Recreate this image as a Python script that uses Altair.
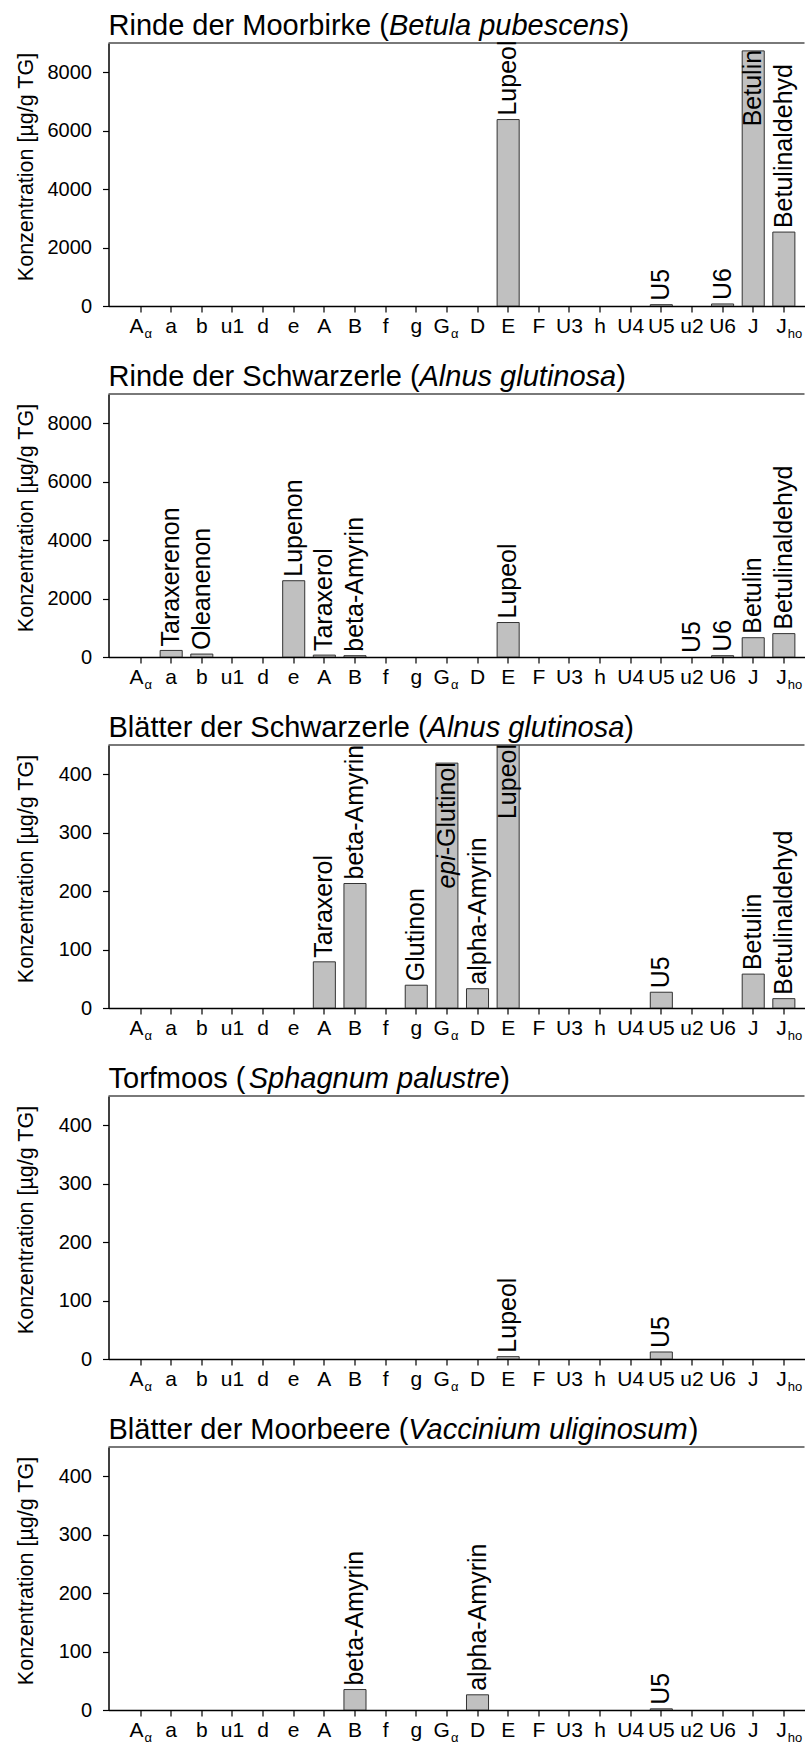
import altair as alt
import pandas as pd

FONT = "Liberation Sans"
W, H = 696, 263          # plot area of each panel
BAR_FILL = "#c0c0c0"
BAR_STROKE = "#333333"

# compound codes along the x axis (same order in every panel)
categories = ["Aα", "a", "b", "u1", "d", "e", "A", "B", "f", "g", "Gα",
              "D", "E", "F", "U3", "h", "U4", "U5", "u2", "U6", "J", "Jho"]
sub_main = {"Aα": "A", "Gα": "G", "Jho": "J"}
sub_low = {"Aα": "α", "Gα": "α", "Jho": "ho"}

# --- Rinde der Moorbirke -------------------------------------------------
p1_title = ["Rinde der Moorbirke (", "Betula pubescens", ")"]
p1_ymax, p1_ticks = 9000, [0, 2000, 4000, 6000, 8000]
p1_bar_cats = ["E", "U5", "U6", "J", "Jho"]
p1_bar_vals = [6380, 45, 70, 8730, 2530]
p1_lab_cats = ["E", "U5", "U6", "J", "Jho"]
p1_lab_names = ["Lupeol", "U5", "U6", "Betulin", "Betulinaldehyd"]

# --- Rinde der Schwarzerle -----------------------------------------------
p2_title = ["Rinde der Schwarzerle (", "Alnus glutinosa", ")"]
p2_ymax, p2_ticks = 9000, [0, 2000, 4000, 6000, 8000]
p2_bar_cats = ["a", "b", "e", "A", "B", "E", "U6", "J", "Jho"]
p2_bar_vals = [225, 100, 2610, 65, 45, 1180, 45, 660, 800]
p2_lab_cats = ["a", "b", "e", "A", "B", "E", "u2", "U6", "J", "Jho"]
p2_lab_names = ["Taraxerenon", "Oleanenon", "Lupenon", "Taraxerol", "beta-Amyrin",
                "Lupeol", "U5", "U6", "Betulin", "Betulinaldehyd"]

# --- Blätter der Schwarzerle ---------------------------------------------
p3_title = ["Blätter der Schwarzerle (", "Alnus glutinosa", ")"]
p3_ymax, p3_ticks = 450, [0, 100, 200, 300, 400]
p3_bar_cats = ["A", "B", "g", "Gα", "D", "E", "U5", "J", "Jho"]
p3_bar_vals = [79, 213, 39, 419, 33, 480, 27, 58, 16]
p3_lab_cats = ["A", "B", "g", "Gα", "D", "E", "U5", "J", "Jho"]
p3_lab_names = ["Taraxerol", "beta-Amyrin", "Glutinon", "epi-Glutinol", "alpha-Amyrin",
                "Lupeol", "U5", "Betulin", "Betulinaldehyd"]

# --- Torfmoos ------------------------------------------------------------
p4_title = ["Torfmoos (", "Sphagnum palustre", ")"]
p4_ymax, p4_ticks = 450, [0, 100, 200, 300, 400]
p4_bar_cats = ["E", "U5"]
p4_bar_vals = [4, 12]
p4_lab_cats = ["E", "U5"]
p4_lab_names = ["Lupeol", "U5"]

# --- Blätter der Moorbeere -----------------------------------------------
p5_title = ["Blätter der Moorbeere (", "Vaccinium uliginosum", ")"]
p5_ymax, p5_ticks = 450, [0, 100, 200, 300, 400]
p5_bar_cats = ["B", "D", "U5"]
p5_bar_vals = [35, 26, 2]
p5_lab_cats = ["B", "D", "U5"]
p5_lab_names = ["beta-Amyrin", "alpha-Amyrin", "U5"]

ITALIC_PREFIXES = ["epi"]

# Helvetica/Arial advance widths (1/1000 em) used to line up mixed-style text
_W = dict(zip("ABCDEFGHIJKLMNOPQRSTUVWXYZ",
              [667, 667, 722, 722, 667, 611, 778, 722, 278, 500, 667, 556, 833,
               722, 778, 667, 778, 722, 667, 611, 722, 667, 944, 667, 667, 611]))
_W.update(zip("abcdefghijklmnopqrstuvwxyz",
              [556, 556, 500, 556, 556, 278, 556, 556, 222, 222, 500, 222, 833,
               556, 556, 556, 556, 333, 500, 278, 556, 500, 722, 500, 500, 500]))
_W.update({" ": 278, "(": 333, ")": 333, "-": 333, "ä": 556})


def text_width(s, size):
    return sum(_W.get(c, 556) for c in s) * size / 1000.0


x_scale = alt.Scale(domain=categories, paddingInner=0.28, paddingOuter=0.5, align=0.686)

LABEL_SIZE = 25
TITLE_SIZE = 29
TICKLABEL_SIZE = 21


def panel(title, ymax, yticks, bar_cats, bar_vals, lab_cats, lab_names):
    y_scale = alt.Scale(domain=[0, ymax], nice=False, zero=True)

    bars_df = pd.DataFrame({"cat": bar_cats, "value": bar_vals})
    lookup = dict(zip(bar_cats, bar_vals))
    labs = pd.DataFrame({"cat": lab_cats, "name": lab_names})
    labs["value"] = [lookup.get(c, 0) for c in lab_cats]
    labs["top"] = labs["value"].clip(upper=ymax)
    labs["inside"] = labs["value"] > 0.9 * ymax

    bars = alt.Chart(bars_df).mark_bar(
        fill=BAR_FILL, stroke=BAR_STROKE, strokeWidth=1, clip=True
    ).encode(
        x=alt.X("cat:N", scale=x_scale, sort=categories,
                axis=alt.Axis(labels=False, ticks=True, tickSize=6, title=None,
                              grid=False, domainWidth=1.5, tickWidth=1.2,
                              domainColor="black", tickColor="black")),
        y=alt.Y("value:Q", scale=y_scale,
                axis=alt.Axis(values=yticks, format="d", tickSize=6, labelPadding=11,
                              labelFontSize=20, labelColor="black",
                              title="Konzentration [µg/g TG]", titleFontSize=21.5,
                              titleFontWeight="normal", titleColor="black",
                              titleX=-76, titleY=H / 2 - 8, titleAngle=270,
                              titleAlign="center", titleBaseline="alphabetic",
                              grid=False, domainWidth=1.5, tickWidth=1.2,
                              domainColor="black", tickColor="black")),
    )

    top_line = alt.Chart(pd.DataFrame({"k": [0]})).mark_rule(
        color="#4d4d4d", strokeWidth=1.5
    ).encode(x=alt.value(0), x2=alt.value(W), y=alt.value(0))

    layers = [bars, top_line]

    # labels standing on top of their bars
    out_df = labs[~labs["inside"]]
    if len(out_df):
        layers.append(alt.Chart(out_df).mark_text(
            angle=270, align="left", baseline="middle", dx=4,
            fontSize=LABEL_SIZE, font=FONT, color="black"
        ).encode(x=alt.X("cat:N", scale=x_scale, sort=categories),
                 y=alt.Y("value:Q", scale=y_scale), text="name:N"))

    # labels that would not fit above: drawn inside the bar, ending at its top
    in_df = labs[labs["inside"]].copy()
    plain_rows, italic_rows = [], []
    for _, r in in_df.iterrows():
        pref = next((p for p in ITALIC_PREFIXES if r["name"].startswith(p + "-")), None)
        if pref:
            rest = r["name"][len(pref):]
            plain_rows.append({"cat": r["cat"], "top": r["top"], "name": rest})
            italic_rows.append({"cat": r["cat"], "top": r["top"], "name": pref,
                                "shift": text_width(rest, LABEL_SIZE)})
        else:
            plain_rows.append({"cat": r["cat"], "top": r["top"], "name": r["name"]})
    if plain_rows:
        layers.append(alt.Chart(pd.DataFrame(plain_rows)).mark_text(
            angle=270, align="right", baseline="middle", dx=1,
            fontSize=LABEL_SIZE, font=FONT, color="black"
        ).encode(x=alt.X("cat:N", scale=x_scale, sort=categories),
                 y=alt.Y("top:Q", scale=y_scale), text="name:N"))
    for row in italic_rows:
        layers.append(alt.Chart(pd.DataFrame([row])).mark_text(
            angle=270, align="right", baseline="middle", dx=1 - row["shift"],
            fontSize=LABEL_SIZE, font=FONT, fontStyle="italic", color="black"
        ).encode(x=alt.X("cat:N", scale=x_scale, sort=categories),
                 y=alt.Y("top:Q", scale=y_scale), text="name:N"))

    # x tick labels (with subscripts where needed)
    plain_ticks = pd.DataFrame({"cat": [c for c in categories if c not in sub_main]})
    plain_ticks["txt"] = plain_ticks["cat"]
    sub_ticks = pd.DataFrame({"cat": list(sub_main)})
    sub_ticks["main"] = [sub_main[c] for c in sub_ticks["cat"]]
    sub_ticks["low"] = [sub_low[c] for c in sub_ticks["cat"]]
    layers.append(alt.Chart(plain_ticks).mark_text(
        align="center", baseline="alphabetic", fontSize=TICKLABEL_SIZE, font=FONT, color="black"
    ).encode(x=alt.X("cat:N", scale=x_scale, sort=categories),
             y=alt.value(H + 27), text="txt:N"))
    layers.append(alt.Chart(sub_ticks).mark_text(
        align="right", baseline="alphabetic", dx=3, fontSize=TICKLABEL_SIZE, font=FONT, color="black"
    ).encode(x=alt.X("cat:N", scale=x_scale, sort=categories),
             y=alt.value(H + 27), text="main:N"))
    layers.append(alt.Chart(sub_ticks).mark_text(
        align="left", baseline="alphabetic", dx=4, fontSize=13, font=FONT, color="black"
    ).encode(x=alt.X("cat:N", scale=x_scale, sort=categories),
             y=alt.value(H + 32), text="low:N"))

    # panel heading: plain – italic species name – plain
    offset = 0.0
    for i, seg in enumerate(title):
        layers.append(alt.Chart(pd.DataFrame({"t": [seg]})).mark_text(
            align="left", baseline="alphabetic", dx=offset, fontSize=TITLE_SIZE,
            font=FONT, fontStyle="italic" if i == 1 else "normal", color="black"
        ).encode(x=alt.value(0), y=alt.value(-8), text="t:N"))
        offset += text_width(seg, TITLE_SIZE)

    return alt.layer(*layers).properties(width=W, height=H)


chart = alt.vconcat(
    panel(p1_title, p1_ymax, p1_ticks, p1_bar_cats, p1_bar_vals, p1_lab_cats, p1_lab_names),
    panel(p2_title, p2_ymax, p2_ticks, p2_bar_cats, p2_bar_vals, p2_lab_cats, p2_lab_names),
    panel(p3_title, p3_ymax, p3_ticks, p3_bar_cats, p3_bar_vals, p3_lab_cats, p3_lab_names),
    panel(p4_title, p4_ymax, p4_ticks, p4_bar_cats, p4_bar_vals, p4_lab_cats, p4_lab_names),
    panel(p5_title, p5_ymax, p5_ticks, p5_bar_cats, p5_bar_vals, p5_lab_cats, p5_lab_names),
    spacing=88, bounds="flush",
).properties(
    padding={"left": 15.5, "top": 12, "right": 0, "bottom": 0}
).configure_view(
    strokeWidth=0
).configure_axis(
    labelFont=FONT, titleFont=FONT
).configure_text(
    font=FONT
)

chart.save("out.html", embed_options={"renderer": "svg", "actions": False})
